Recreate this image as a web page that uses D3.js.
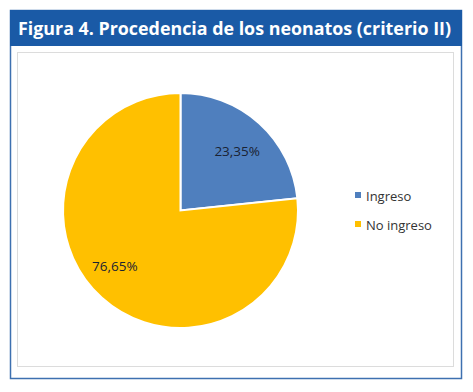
<!DOCTYPE html>
<html>
<head>
<meta charset="utf-8">
<script src="https://cdn.jsdelivr.net/npm/d3@7"></script>
<style>
  body { margin: 0; background: #fff; }
  svg { display: block; }
</style>
</head>
<body>
<svg id="chart" width="473" height="392"></svg>
<script>
// datos
const categories = ["Ingreso", "No ingreso"];
const values = [23.35, 76.65];
const labels = ["23,35%", "76,65%"];
const colors = ["#4f7fbe", "#ffc000"];
const title = "Figura 4. Procedencia de los neonatos (criterio II)";

const svg = d3.select("#chart");
const font = "'Open Sans', 'Noto Sans', sans-serif";

// marco exterior
svg.append("rect")
    .attr("x", 10.5).attr("y", 10.5)
    .attr("width", 451).attr("height", 368)
    .attr("fill", "#fff")
    .attr("stroke", "#3d70b0").attr("stroke-width", 1.5);

// cabecera
svg.append("rect")
    .attr("x", 10).attr("y", 10)
    .attr("width", 452).attr("height", 36)
    .attr("fill", "#1a5aa6");
svg.append("text")
    .attr("x", 18).attr("y", 35)
    .attr("fill", "#fff")
    .attr("font-family", font)
    .attr("font-weight", "bold")
    .attr("font-size", 17.5)
    .attr("textLength", 433)
    .attr("lengthAdjust", "spacingAndGlyphs")
    .text(title);

// marco interior
svg.append("rect")
    .attr("x", 17.5).attr("y", 52.5)
    .attr("width", 436).attr("height", 314)
    .attr("fill", "#fff")
    .attr("stroke", "#dcdcdc").attr("stroke-width", 1);

// tarta
const cx = 180.5, cy = 210.5, r = 117.5;
const pie = d3.pie().sort(null).value(d => d)(values);
const arc = d3.arc().innerRadius(0).outerRadius(r);
const labelArc = d3.arc().innerRadius(r * 0.72).outerRadius(r * 0.72);

const g = svg.append("g").attr("transform", `translate(${cx},${cy})`);
g.selectAll("path")
    .data(pie)
    .join("path")
    .attr("d", arc)
    .attr("fill", (d, i) => colors[i])
    .attr("stroke", "#fff")
    .attr("stroke-width", 2);

// etiquetas algo desplazadas como en excel
g.selectAll("text")
    .data(pie)
    .join("text")
    .attr("transform", (d, i) => {
        const c = labelArc.centroid(d);
        const dx = i === 0 ? 0 : -9, dy = i === 0 ? 4 : -7;
        return `translate(${c[0] + dx},${c[1] + dy})`;
    })
    .attr("text-anchor", "middle")
    .attr("dy", "0.35em")
    .attr("font-family", font)
    .attr("font-size", 13.5)
    .attr("fill", "#1a2333")
    .text((d, i) => labels[i]);

// leyenda
const legend = svg.append("g").attr("transform", "translate(355,196)");
const item = legend.selectAll("g")
    .data(categories)
    .join("g")
    .attr("transform", (d, i) => `translate(0,${i * 29})`);
item.append("rect")
    .attr("x", 0).attr("y", -4)
    .attr("width", 6).attr("height", 6)
    .attr("fill", (d, i) => colors[i]);
item.append("text")
    .attr("x", 11).attr("dy", "0.35em")
    .attr("font-family", font)
    .attr("font-size", 13)
    .attr("fill", "#333")
    .text(d => d);
</script>
</body>
</html>
